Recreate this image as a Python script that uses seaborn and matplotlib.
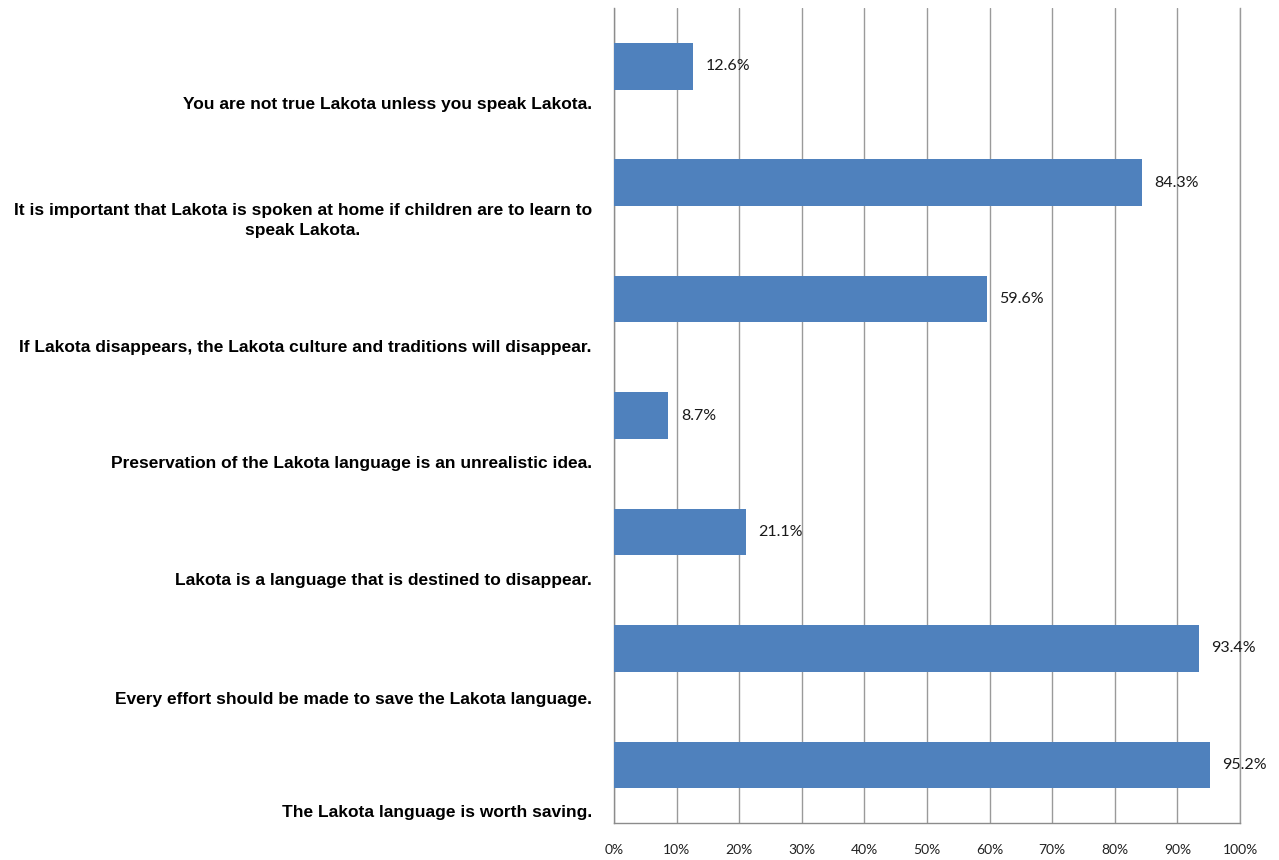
import numpy as np
import pandas as pd
import matplotlib
matplotlib.use("Agg")
import matplotlib.pyplot as plt
import seaborn as sns

statements = [
    "You are not true Lakota unless you speak Lakota.",
    "It is important that Lakota is spoken at home if children are to learn to\nspeak Lakota.",
    "If Lakota disappears, the Lakota culture and traditions will disappear.",
    "Preservation of the Lakota language is an unrealistic idea.",
    "Lakota is a language that is destined to disappear.",
    "Every effort should be made to save the Lakota language.",
    "The Lakota language is worth saving.",
]
percent = [12.6, 84.3, 59.6, 8.7, 21.1, 93.4, 95.2]
x_ticks = [0, 10, 20, 30, 40, 50, 60, 70, 80, 90, 100]
x_tick_labels = ["0%", "10%", "20%", "30%", "40%", "50%", "60%", "70%", "80%", "90%", "100%"]

# vertical offsets of the category labels below each bar (in category units)
label_offsets = [0.32, 0.29, 0.40, 0.40, 0.40, 0.43, 0.40]

sns.set_theme(style="white")
plt.rcParams['font.family'] = ['Liberation Sans Narrow', 'Liberation Sans', 'DejaVu Sans']

df = pd.DataFrame({"statement": statements, "percent": percent})

fig = plt.figure(figsize=(12.79, 8.60), dpi=100)
ax = fig.add_axes([614 / 1279, (860 - 823) / 860, (1240 - 614) / 1279, (823 - 8) / 860])

sns.barplot(data=df, y="statement", x="percent", orient="h", color="#4F81BD",
            width=0.4, saturation=1, ax=ax, zorder=3, linewidth=0)

ax.set_xlim(0, 100)
ax.set_ylim(6.5, -0.5)
ax.set_xlabel("")
ax.set_ylabel("")

ax.set_xticks(x_ticks)
ax.set_xticklabels(x_tick_labels, fontfamily=['Lato', 'DejaVu Sans'], fontsize=10, color="#222222")
ax.tick_params(axis="x", length=0, pad=15)

pos = np.arange(len(statements)) + np.array(label_offsets)
ax.set_yticks(pos)
ax.set_yticklabels(statements, fontsize=12.5, fontweight="bold", color="black",
                   multialignment="center", linespacing=1.45)
ax.tick_params(axis="y", length=0, pad=16)

ax.grid(axis="x", color="#9a9a9a", linewidth=1.0, zorder=0)
ax.grid(axis="y", visible=False)

ax.spines["top"].set_visible(False)
ax.spines["right"].set_color("#9a9a9a")
ax.spines["right"].set_linewidth(1.0)
for side in ["left", "bottom"]:
    ax.spines[side].set_color("#8c8c8c")
    ax.spines[side].set_linewidth(1.0)

for cont in ax.containers:
    ax.bar_label(cont, labels=[f"{v:.1f}%" for v in percent], padding=9,
                 fontsize=11.5, fontfamily=['Lato', 'DejaVu Sans'], color="#1a1a1a")

fig.savefig("out.png", dpi=100)
